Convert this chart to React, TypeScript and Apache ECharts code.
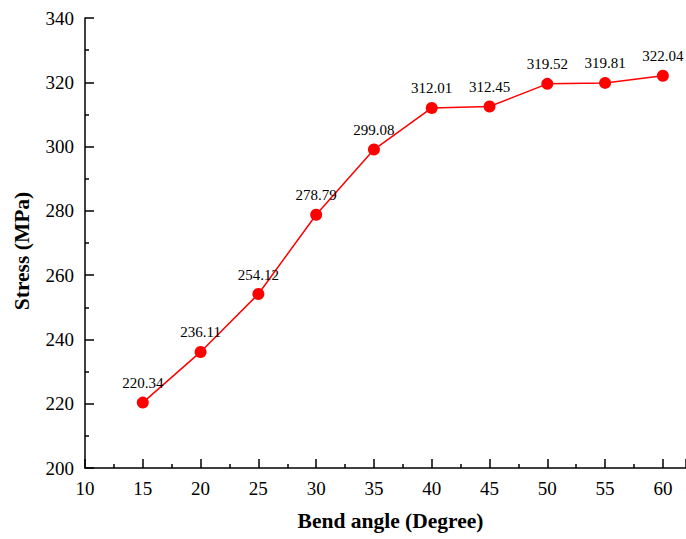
import React, { useEffect, useRef } from "react";
import * as echarts from "echarts";

const angles = [15, 20, 25, 30, 35, 40, 45, 50, 55, 60];
const stress = [220.34, 236.11, 254.12, 278.79, 299.08, 312.01, 312.45, 319.52, 319.81, 322.04];
const xTitle = "Bend angle (Degree)";
const yTitle = "Stress (MPa)";

const FONT = "'Liberation Serif', 'Times New Roman', serif";

export default function App() {
  const ref = useRef<HTMLDivElement>(null);
  useEffect(() => {
    if (!ref.current) return;
    const chart = echarts.init(ref.current, null, { renderer: "svg" });
    const data = angles.map((a, i) => [a, stress[i]]);
    chart.setOption({
      animation: false,
      backgroundColor: "#ffffff",
      grid: { left: 85, top: 18, right: 0, bottom: 71, containLabel: false },
      xAxis: {
        type: "value",
        min: 10,
        max: 62,
        interval: 5,
        name: xTitle,
        nameLocation: "middle",
        nameGap: 42,
        nameTextStyle: {
          fontFamily: FONT,
          fontSize: 21.5,
          fontWeight: "bold",
          color: "#000",
          padding: [0, 0, 0, 10],
        },
        axisLine: { show: true, lineStyle: { color: "#000", width: 1.5 } },
        axisTick: { show: true, inside: true, length: 9, lineStyle: { color: "#000", width: 1.5 } },
        minorTick: { show: true, splitNumber: 2, length: 4, lineStyle: { color: "#000", width: 1.5 } },
        axisLabel: {
          fontFamily: FONT,
          fontSize: 19,
          color: "#000",
          margin: 11,
          showMaxLabel: false,
          formatter: (v: number) => (v % 5 === 0 && v <= 60 ? String(v) : ""),
        },
        splitLine: { show: false },
      },
      yAxis: {
        type: "value",
        min: 200,
        max: 340,
        interval: 20,
        name: yTitle,
        nameLocation: "middle",
        nameGap: 52,
        nameTextStyle: {
          fontFamily: FONT,
          fontSize: 21.5,
          fontWeight: "bold",
          color: "#000",
          padding: [0, 16, 0, 0],
        },
        axisLine: { show: true, lineStyle: { color: "#000", width: 1.5 } },
        axisTick: { show: true, inside: true, length: 9, lineStyle: { color: "#000", width: 1.5 } },
        minorTick: { show: true, splitNumber: 2, length: 4, lineStyle: { color: "#000", width: 1.5 } },
        axisLabel: { fontFamily: FONT, fontSize: 19, color: "#000", margin: 11 },
        splitLine: { show: false },
      },
      series: [
        {
          type: "line",
          data,
          symbol: "circle",
          symbolSize: 12,
          itemStyle: { color: "#ff0000" },
          lineStyle: { color: "#ff0000", width: 1.5 },
          label: {
            show: true,
            position: "top",
            distance: 6,
            fontFamily: FONT,
            fontSize: 15,
            color: "#000",
            formatter: (p: any) => p.value[1].toFixed(2),
          },
        },
      ],
    });
    return () => chart.dispose();
  }, []);
  return <div ref={ref} style={{ width: 686, height: 539, position: "absolute", left: 0, top: 0 }} />;
}
